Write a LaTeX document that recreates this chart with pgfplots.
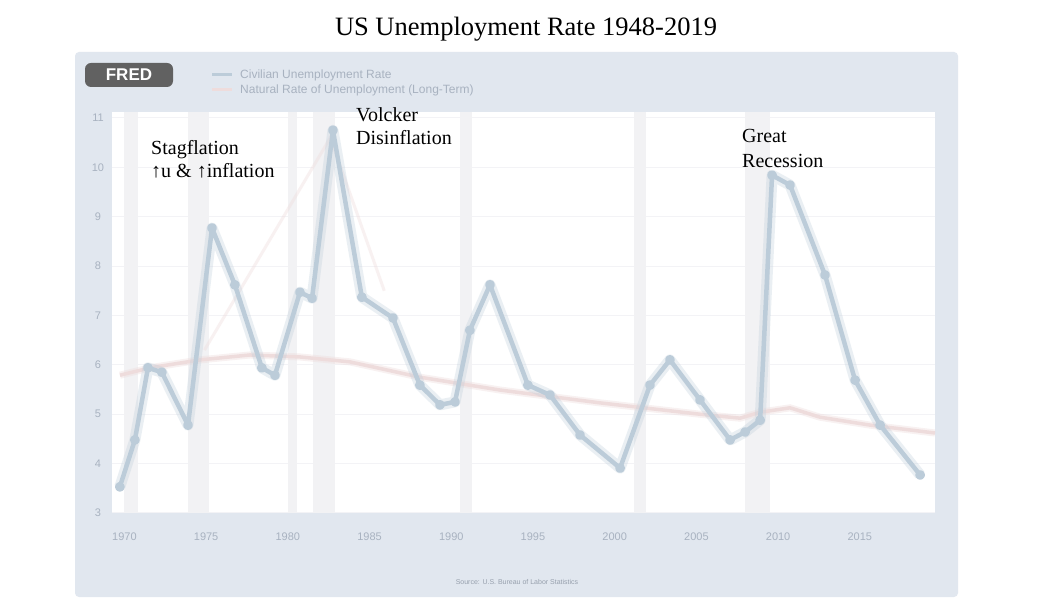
\documentclass[border=0pt]{standalone}
\usepackage{pgfplots}
\pgfplotsset{compat=1.18}
\usepackage{pgfplotstable}
\usepackage{fontspec}
\setmainfont{Liberation Serif}
\newfontfamily\sansf{Liberation Sans}

\definecolor{panel}{RGB}{225,231,239}
\definecolor{recess}{RGB}{242,242,244}
\definecolor{unrate}{RGB}{188,204,217}
\definecolor{unmark}{RGB}{168,188,205}
\definecolor{nrou}{RGB}{238,220,220}
\definecolor{ticktext}{RGB}{168,178,192}
\definecolor{gridc}{RGB}{243,243,246}

% civilian unemployment rate
\pgfplotstableread{
year rate
1969.72 3.53
1970.64 4.48
1971.44 5.94
1972.29 5.85
1973.89 4.78
1975.36 8.77
1976.76 7.62
1978.41 5.94
1979.21 5.79
1980.74 7.47
1981.48 7.35
1982.76 10.75
1984.53 7.37
1986.43 6.95
1988.08 5.59
1989.31 5.19
1990.23 5.25
1991.14 6.70
1992.37 7.62
1994.69 5.59
1996.04 5.39
1997.88 4.58
2000.33 3.91
2002.16 5.59
2003.38 6.10
2005.22 5.29
2007.06 4.48
2007.98 4.64
2008.90 4.88
2009.63 9.84
2010.73 9.64
2012.87 7.82
2014.71 5.69
2016.24 4.78
2018.69 3.77
}\unrate

% natural rate of unemployment
\pgfplotstableread{
year rate
1969.73 5.79
1971.56 5.94
1974.62 6.10
1977.68 6.20
1980.74 6.16
1983.80 6.06
1988.08 5.75
1992.98 5.49
1999.10 5.23
2005.22 5.00
2007.67 4.92
2008.90 5.04
2010.73 5.13
2012.56 4.94
2015.62 4.78
2019.60 4.62
}\nrou

\begin{document}
\begin{tikzpicture}
\begin{scope}[x=1pt,y=1pt]
\path[use as bounding box] (0,0) rectangle (1062,597);
\fill[white] (0,0) rectangle (1062,597);
\fill[panel, rounded corners=4pt] (75,0) rectangle (958,545);

% header of the embedded graph
\node[fill=black!62, rounded corners=6pt, text=white, minimum width=88pt,
  minimum height=24pt, inner sep=0pt, font=\sansf\bfseries\fontsize{17}{17}\selectfont]
  at (129,522) {FRED};
\draw[unrate, line width=3pt] (212,522) -- (232,522);
\draw[nrou, line width=3pt] (212,507) -- (232,507);
\node[anchor=west, inner sep=0pt, text=ticktext, font=\sansf\fontsize{12}{12}\selectfont]
  at (240,522) {Civilian Unemployment Rate};
\node[anchor=west, inner sep=0pt, text=ticktext, font=\sansf\fontsize{12}{12}\selectfont]
  at (240,507) {Natural Rate of Unemployment (Long-Term)};
\node[inner sep=0pt, text=ticktext!90!black, font=\sansf\fontsize{7}{7}\selectfont]
  at (517,15) {Source: U.S. Bureau of Labor Statistics};
\end{scope}

\begin{axis}[at={(112pt,84pt)}, anchor=south west, width=823pt, height=401pt,
  scale only axis, xmin=1969.24, xmax=2019.6, ymin=3, ymax=11.12,
  axis background/.style={fill=white},
  axis line style={draw=none}, tick style={draw=none},
  xtick={1970,1975,...,2015}, ytick={3,...,11},
  ymajorgrids, major grid style={gridc, line width=1pt},
  /pgf/number format/assume math mode=true,
  tick label style={font=\sansf\fontsize{11}{11}\selectfont, text=ticktext},
  xticklabel style={/pgf/number format/1000 sep={}, anchor=center, yshift=-24pt},
  yticklabel style={anchor=center, xshift=-14pt}]

% recessions
\addplot[draw=none, fill=recess] coordinates {(1969.95,3) (1969.95,11.12) (1970.85,11.12) (1970.85,3)} -- cycle;
\addplot[draw=none, fill=recess] coordinates {(1973.9,3) (1973.9,11.12) (1975.2,11.12) (1975.2,3)} -- cycle;
\addplot[draw=none, fill=recess] coordinates {(1980.0,3) (1980.0,11.12) (1980.55,11.12) (1980.55,3)} -- cycle;
\addplot[draw=none, fill=recess] coordinates {(1981.55,3) (1981.55,11.12) (1982.9,11.12) (1982.9,3)} -- cycle;
\addplot[draw=none, fill=recess] coordinates {(1990.55,3) (1990.55,11.12) (1991.25,11.12) (1991.25,3)} -- cycle;
\addplot[draw=none, fill=recess] coordinates {(2001.2,3) (2001.2,11.12) (2001.9,11.12) (2001.9,3)} -- cycle;
\addplot[draw=none, fill=recess] coordinates {(2007.95,3) (2007.95,11.12) (2009.5,11.12) (2009.5,3)} -- cycle;

% natural rate
\addplot[nrou, line width=7pt, opacity=0.4, no marks] table[x=year, y=rate] {\nrou};
\addplot[nrou, line width=3.5pt, no marks] table[x=year, y=rate] {\nrou};
% faint stagflation / disinflation strokes
\addplot[nrou, line width=3pt, opacity=0.4, no marks] coordinates {(1974.9,6.3) (1982.6,10.6) (1985.9,7.5)};

% unemployment rate
\addplot[unrate, line width=11pt, opacity=0.3, no marks, line join=round] table[x=year, y=rate] {\unrate};
\addplot[unrate, line width=4.5pt, line join=round, mark=*,
  mark options={draw=none, fill=unmark, scale=1.3}] table[x=year, y=rate] {\unrate};
\end{axis}

% annotations
\begin{scope}[x=1pt,y=1pt]
\node[anchor=base, inner sep=0pt, font=\fontsize{26.5}{30}\selectfont] at (526,561) {US Unemployment Rate 1948-2019};
\node[anchor=base west, inner sep=0pt, font=\fontsize{20}{23}\selectfont] at (151,442) {Stagflation};
\node[anchor=base west, inner sep=0pt, font=\fontsize{20}{23}\selectfont] at (151,419) {↑u \& ↑inflation};
\node[anchor=base west, inner sep=0pt, font=\fontsize{20}{23}\selectfont] at (356,475) {Volcker};
\node[anchor=base west, inner sep=0pt, font=\fontsize{20}{23}\selectfont] at (356,452) {Disinflation};
\node[anchor=base west, inner sep=0pt, font=\fontsize{20}{23}\selectfont] at (742,454) {Great};
\node[anchor=base west, inner sep=0pt, font=\fontsize{20}{23}\selectfont] at (742,429) {Recession};
\end{scope}
\end{tikzpicture}
\end{document}
